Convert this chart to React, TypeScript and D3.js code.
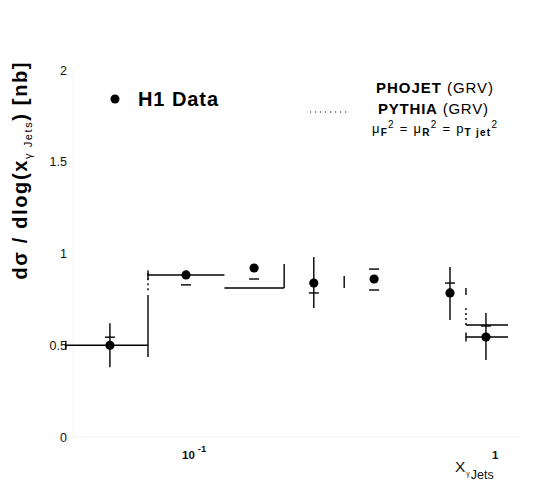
import React from "react";
import * as d3 from "d3";

// H1 data points
const xCenters = [0.0543, 0.097, 0.163, 0.257, 0.407, 0.726, 0.955];
const h1Values = [0.5, 0.883, 0.921, 0.839, 0.861, 0.785, 0.545];
const errUp: (number | null)[] = [0.12, null, null, 0.142, null, 0.142, 0.131];
const errDown: (number | null)[] = [0.12, null, null, 0.136, null, 0.147, 0.125];
const statUp: (number | null)[] = [0.044, null, null, null, 0.054, 0.054, 0.06];
const statDown: (number | null)[] = [null, 0.054, 0.06, 0.054, 0.06, null, null];
const binLow: (number | null)[] = [0.0388, 0.0726, null, null, null, null, 0.82];
const binHigh: (number | null)[] = [0.0726, 0.13, null, null, null, null, 1.13];

// PHOJET (solid histogram pieces)
const phojetBinLow = [0.13, 0.82];
const phojetBinHigh = [0.205, 1.13];
const phojetBinValue = [0.812, 0.61];
const phojetEdgeX = [0.0726, 0.205, 0.324, 0.82];
const phojetEdgeFrom = [0.436, 0.812, 0.812, 0.774];
const phojetEdgeTo = [0.774, 0.943, 0.877, 0.812];

// PYTHIA (dotted histogram pieces)
const pythiaEdgeX = [0.0726, 0.82];
const pythiaEdgeFrom = [0.8, 0.61];
const pythiaEdgeTo = [0.91, 0.72];

const yTicks = [0, 0.5, 1, 1.5, 2];
const yTickLabels = ["0", "0.5", "1", "1.5", "2"];

const W = 557;
const H = 484;
const FONT = "'Liberation Sans', Arial, Helvetica, sans-serif";

export default function App() {
  const x = d3.scaleLog().domain([0.1, 1]).range([190, 492]);
  const y = d3.scaleLinear().domain([0, 2]).range([437, 70]);
  const lw = 1.4;
  const capHalf = 5;

  return (
    <svg
      width={W}
      height={H}
      style={{ position: "absolute", left: 0, top: 0, background: "#fff" }}
      fontFamily={FONT}
    >
      <rect x={0} y={0} width={W} height={H} fill="#fff" />
      {/* faint frame remnants */}
      <line x1={73} x2={73} y1={y(2)} y2={y(0)} stroke="#f3f3f3" strokeWidth={1} />
      <line x1={73} x2={520} y1={y(0)} y2={y(0)} stroke="#f3f3f3" strokeWidth={1} />

      {/* y tick labels */}
      {yTicks.map((t, i) => (
        <text
          key={"yt" + i}
          x={67}
          y={y(t) + 4.5}
          textAnchor="end"
          fontSize={12.5}
          fill="#111"
        >
          {yTickLabels[i]}
        </text>
      ))}

      {/* x tick labels */}
      <text x={x(0.1) - 8} y={459} fontSize={11.5} fontWeight="bold" fill="#111">
        10
        <tspan fontSize={9.5} dy={-7} dx={3}>
          -1
        </tspan>
      </text>
      <text x={x(1)} y={459} fontSize={11.5} fontWeight="bold" fill="#111">
        1
      </text>

      {/* x axis title */}
      <text x={455} y={472} fontSize={15.5} fill="#111">
        X
        <tspan fontSize={7} dy={4} dx={1}>
          γ
        </tspan>
        <tspan fontSize={12.5} dy={3} dx={1}>
          Jets
        </tspan>
      </text>

      {/* y axis title */}
      <text
        transform="translate(27,171) rotate(-90)"
        textAnchor="middle"
        fontSize={20}
        fontWeight="bold"
        fill="#000"
        textLength={217}
        lengthAdjust="spacing"
      >
        dσ / dlog(x
        <tspan fontSize={11} dy={5} fontWeight="normal">
          γ Jets
        </tspan>
        <tspan dy={-5}>) [nb]</tspan>
      </text>

      {/* PHOJET solid histogram pieces */}
      {phojetBinValue.map((v, i) => (
        <line
          key={"ph" + i}
          x1={x(phojetBinLow[i])}
          x2={x(phojetBinHigh[i])}
          y1={y(v)}
          y2={y(v)}
          stroke="#000"
          strokeWidth={lw}
        />
      ))}
      {phojetEdgeX.map((e, i) => (
        <line
          key={"pv" + i}
          x1={x(e)}
          x2={x(e)}
          y1={y(phojetEdgeFrom[i])}
          y2={y(phojetEdgeTo[i])}
          stroke="#000"
          strokeWidth={lw}
        />
      ))}

      {/* PYTHIA dotted pieces */}
      {pythiaEdgeX.map((e, i) => (
        <line
          key={"py" + i}
          x1={x(e)}
          x2={x(e)}
          y1={y(pythiaEdgeFrom[i])}
          y2={y(pythiaEdgeTo[i])}
          stroke="#000"
          strokeWidth={lw}
          strokeDasharray="2,3"
        />
      ))}

      {/* H1 data */}
      {xCenters.map((xc, i) => {
        const cx = x(xc);
        const cy = y(h1Values[i]);
        const up = errUp[i];
        const dn = errDown[i];
        const su = statUp[i];
        const sd = statDown[i];
        const lo = binLow[i];
        const hi = binHigh[i];
        return (
          <g key={"d" + i} stroke="#000" strokeWidth={lw}>
            {lo !== null && hi !== null && (
              <>
                <line x1={x(lo)} x2={x(hi)} y1={cy} y2={cy} />
                <line x1={x(lo)} x2={x(lo)} y1={cy - 4.5} y2={cy + 4.5} />
              </>
            )}
            {up !== null && <line x1={cx} x2={cx} y1={cy} y2={y(h1Values[i] + up)} />}
            {dn !== null && <line x1={cx} x2={cx} y1={cy} y2={y(h1Values[i] - dn)} />}
            {su !== null && (
              <line
                x1={cx - capHalf}
                x2={cx + capHalf}
                y1={y(h1Values[i] + su)}
                y2={y(h1Values[i] + su)}
              />
            )}
            {sd !== null && (
              <line
                x1={cx - capHalf}
                x2={cx + capHalf}
                y1={y(h1Values[i] - sd)}
                y2={y(h1Values[i] - sd)}
              />
            )}
            <circle cx={cx} cy={cy} r={4.6} fill="#000" stroke="none" />
          </g>
        );
      })}

      {/* legend */}
      <circle cx={115} cy={99} r={4.5} fill="#000" />
      <text x={138} y={106} fontSize={20} fontWeight="bold" fill="#000" textLength={80} lengthAdjust="spacing">
        H1 Data
      </text>

      <text x={376} y={93} fontSize={15} fill="#000" textLength={117} lengthAdjust="spacing">
        <tspan fontWeight="bold">PHOJET</tspan> (GRV)
      </text>
      <line x1={310} x2={350} y1={112} y2={112} stroke="#000" strokeWidth={1} strokeDasharray="1.2,3.8" />
      <text x={378} y={114} fontSize={15} fill="#000" textLength={110} lengthAdjust="spacing">
        <tspan fontWeight="bold">PYTHIA</tspan> (GRV)
      </text>

      <text x={372} y={133} fontSize={13} fill="#000" textLength={125} lengthAdjust="spacing">
        μ
        <tspan fontSize={10} fontWeight="bold" dy={3}>F</tspan>
        <tspan fontSize={10} dy={-8}>2</tspan>
        <tspan dy={5}> = μ</tspan>
        <tspan fontSize={10} fontWeight="bold" dy={3}>R</tspan>
        <tspan fontSize={10} dy={-8}>2</tspan>
        <tspan dy={5}> = p</tspan>
        <tspan fontSize={10} fontWeight="bold" dy={3}>T jet</tspan>
        <tspan fontSize={10} dy={-8}>2</tspan>
      </text>
    </svg>
  );
}
